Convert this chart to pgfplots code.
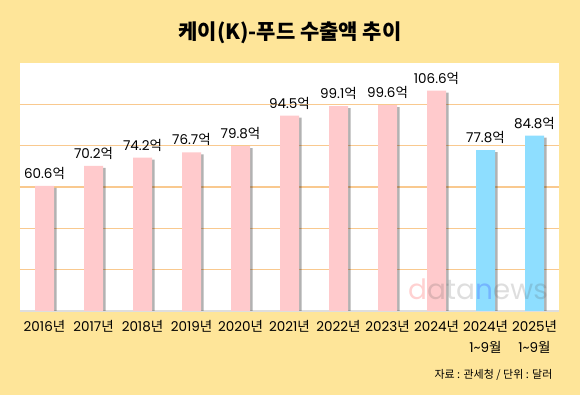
\documentclass[border=0pt]{standalone}
\usepackage{pgfplots}
\pgfplotsset{compat=1.18}
\usepackage{pgfplotstable}
\usepackage{fontspec}
\setmainfont{Poppins}
\newfontfamily\cjk{Noto Sans CJK KR}
\usetikzlibrary{shadows}
\definecolor{bg}{HTML}{FEE599}
\definecolor{pinkbar}{HTML}{FFCACC}
\definecolor{bluebar}{HTML}{8EDEFF}
\definecolor{gridc}{HTML}{F9C98F}

\pgfplotstableread{
x y
0 60.6
1 70.2
2 74.2
3 76.7
4 79.8
5 94.5
6 99.1
7 99.6
8 106.6
}\annual
\pgfplotstableread{
x y
9 77.8
10 84.8
}\partial

\begin{document}
\begin{tikzpicture}[x=1pt,y=1pt]
\fill[bg] (0,0) rectangle (580,395);
\node[font=\cjk\bfseries\fontsize{21}{24}\selectfont] at (290,362) {케이(K)-푸드 수출액 추이};
\node[font=\cjk\fontsize{11}{13}\selectfont, anchor=east] at (556,20) {자료 : 관세청 / 단위 : 달러};
\begin{axis}[
  at={(20pt,84pt)}, anchor=south west,
  scale only axis, width=539pt, height=248pt,
  xmin=-0.5, xmax=10.5, ymin=0, ymax=120,
  axis background/.style={fill=white},
  axis line style={draw=none},
  ytick={20,40,60,80,100}, yticklabels={},
  ymajorgrids, grid style={gridc, line width=1.1pt},
  extra y ticks={0}, extra y tick labels={},
  extra y tick style={major grid style={draw=black!13, line width=2pt}},
  major tick length=0pt,
  /pgf/number format/assume math mode=true,
  xtick={0,...,10},
  xticklabels={2016{\cjk 년},2017{\cjk 년},2018{\cjk 년},2019{\cjk 년},2020{\cjk 년},2021{\cjk 년},2022{\cjk 년},2023{\cjk 년},2024{\cjk 년},{2024{\cjk 년}\\1\textasciitilde9{\cjk 월}},{2025{\cjk 년}\\1\textasciitilde9{\cjk 월}}},
  xticklabel style={align=center, font=\fontsize{13.5}{20.5}\selectfont, text=black, yshift=-6pt},
  ybar, bar width=19pt, bar shift=0pt,
  nodes near coords={\pgfmathprintnumber[fixed,fixed zerofill,precision=1,assume math mode=true]{\pgfplotspointmeta}{\cjk 억}},
  nodes near coords style={font=\fontsize{13.5}{15}\selectfont, text=black, yshift=3pt},
]
\addplot[fill=pinkbar, draw=none, drop shadow={shadow xshift=2.5pt, shadow yshift=-2pt, opacity=0.3, fill=black}] table[x=x,y=y] {\annual};
\addplot[fill=bluebar, draw=none, drop shadow={shadow xshift=2.5pt, shadow yshift=-2pt, opacity=0.3, fill=black}] table[x=x,y=y] {\partial};
\end{axis}
\node[font=\fontsize{28}{30}\selectfont, opacity=0.18] at (478,106) {{\color{red}d}{\color{black!70}ata}{\color{blue}n}{\color{black!70}ews}};
\end{tikzpicture}
\end{document}
